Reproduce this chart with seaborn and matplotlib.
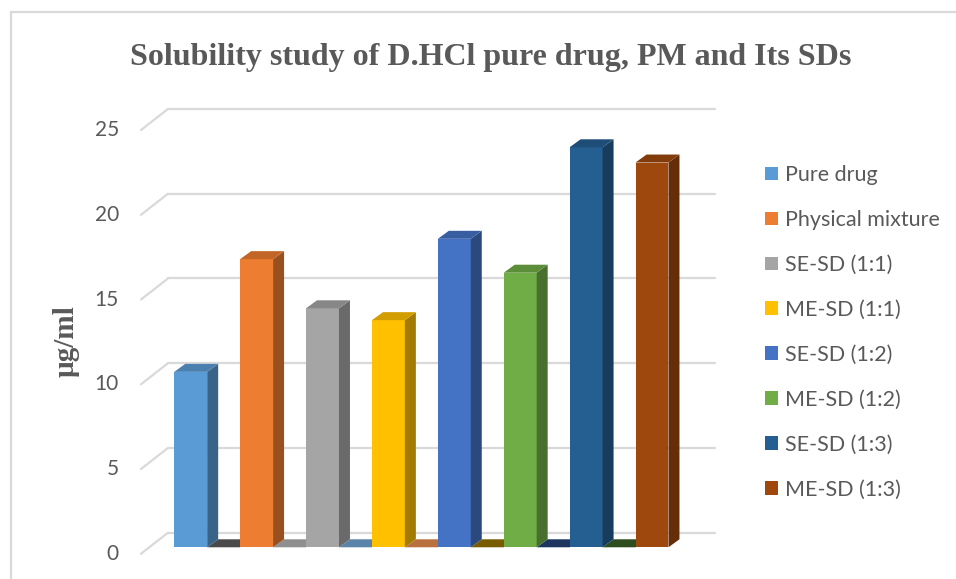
import numpy as np
import matplotlib
matplotlib.use("Agg")
import matplotlib.pyplot as plt
from matplotlib.patches import Polygon, Patch, Rectangle
import seaborn as sns

# solubility values (ug/ml)
categories = ["Pure drug", "Physical mixture", "SE-SD (1:1)", "ME-SD (1:1)",
              "SE-SD (1:2)", "ME-SD (1:2)", "SE-SD (1:3)", "ME-SD (1:3)"]
values = [10.35, 17.0, 14.1, 13.4, 18.2, 16.2, 23.6, 22.7]
yticks = [0, 5, 10, 15, 20, 25]

front_colors = ["#5B9BD5", "#ED7D31", "#A5A5A5", "#FFC000",
                "#4472C4", "#70AD47", "#255E91", "#9E480E"]
# empty (zero height) series that show up as flat slabs between the bars
gap_colors = ["#4a4a4a", "#8f8f8f", "#5a84a9", "#b8703e", "#7a5c00", "#1e3560", "#2e4d1e"]

TEXT = "#595959"
GRID = "#d9d9d9"


def shade(color, f):
    r, g, b = matplotlib.colors.to_rgb(color)
    return (r * f, g * f, b * f)


sns.set_style("white")
W, H = 956, 579
fig = plt.figure(figsize=(W / 100, H / 100), dpi=100)
ax = fig.add_axes([130 / W, (H - 570) / H, 590 / W, 470 / H])

sns.barplot(x=categories, y=values, hue=categories, palette=front_colors,
            width=0.5, saturation=1, linewidth=0, legend=False, ax=ax, zorder=3)

ax.set_xlim(-0.921, 8.032)
ax.set_ylim(-1.34, 26.39)
ax.axis("off")


def px(dx, dy):
    # pixel offset -> data offset
    x0, y0 = ax.transData.transform((0, 0))
    x1, y1 = ax.transData.inverted().transform((x0 + dx, y0 + dy))
    return x1, y1


# back wall gridlines + the slanted side wall ticks
bx, by = px(19, 14.6)
fx, fy = px(-8, -6.5)
wall_left, wall_right = -0.633, 7.668
for v in yticks:
    ax.plot([wall_left + bx, wall_right + bx], [v + by, v + by], color=GRID, lw=1.6, zorder=0)
    ax.plot([wall_left + fx, wall_left + bx], [v + fy, v + by], color=GRID, lw=1.6, zorder=0)
    lx, ly = px(-30, -6.5)
    ax.text(wall_left + lx, v + ly, str(v), ha="right", va="center",
            fontsize=15, family="Lato", color=TEXT)

# 3D faces of the bars
ddx, ddy = px(11, 8)
bars = sorted(ax.patches, key=lambda p: p.get_x())
for i, p in enumerate(bars):
    x0 = p.get_x()
    x1 = x0 + p.get_width()
    h = p.get_height()
    c = front_colors[i]
    side = Polygon([(x1, 0), (x1 + ddx, ddy), (x1 + ddx, h + ddy), (x1, h)],
                   closed=True, facecolor=shade(c, 0.64), edgecolor="none", zorder=3)
    top = Polygon([(x0, h), (x1, h), (x1 + ddx, h + ddy), (x0 + ddx, h + ddy)],
                  closed=True, facecolor=shade(c, 0.82), edgecolor="none", zorder=3)
    ax.add_patch(side)
    ax.add_patch(top)

for i, c in enumerate(gap_colors):
    x0 = bars[i].get_x() + bars[i].get_width()
    x1 = bars[i + 1].get_x()
    slab = Polygon([(x0, 0), (x1, 0), (x1 + ddx, ddy), (x0 + ddx, ddy)],
                   closed=True, facecolor=c, edgecolor="none", zorder=2)
    ax.add_patch(slab)

# title and axis label
fig.text(491 / W, (H - 57) / H, "Solubility study of D.HCl pure drug, PM and Its SDs",
         ha="center", va="center", fontsize=23, fontweight="bold",
         family="Liberation Serif", color=TEXT)
fig.text(66 / W, (H - 341) / H, "µg/ml", rotation=90, ha="center", va="center",
         fontsize=21, fontweight="bold", family="Liberation Serif", color=TEXT)

# legend
handles = [Patch(facecolor=c, edgecolor="none") for c in front_colors]
fig.legend(handles, categories, loc="upper left", bbox_to_anchor=(765 / W, (H - 165) / H),
           frameon=False, borderpad=0, borderaxespad=0, handlelength=0.6, handleheight=0.6,
           handletextpad=0.33, labelspacing=1.16, prop={"family": "Lato", "size": 15.5},
           labelcolor=TEXT)

# chart border
fig.patches.append(Rectangle((11 / W, -0.05), 1.1, (H - 12) / H + 0.05, transform=fig.transFigure,
                             fill=False, edgecolor=GRID, lw=1.6))

fig.savefig("out.png", dpi=100)
